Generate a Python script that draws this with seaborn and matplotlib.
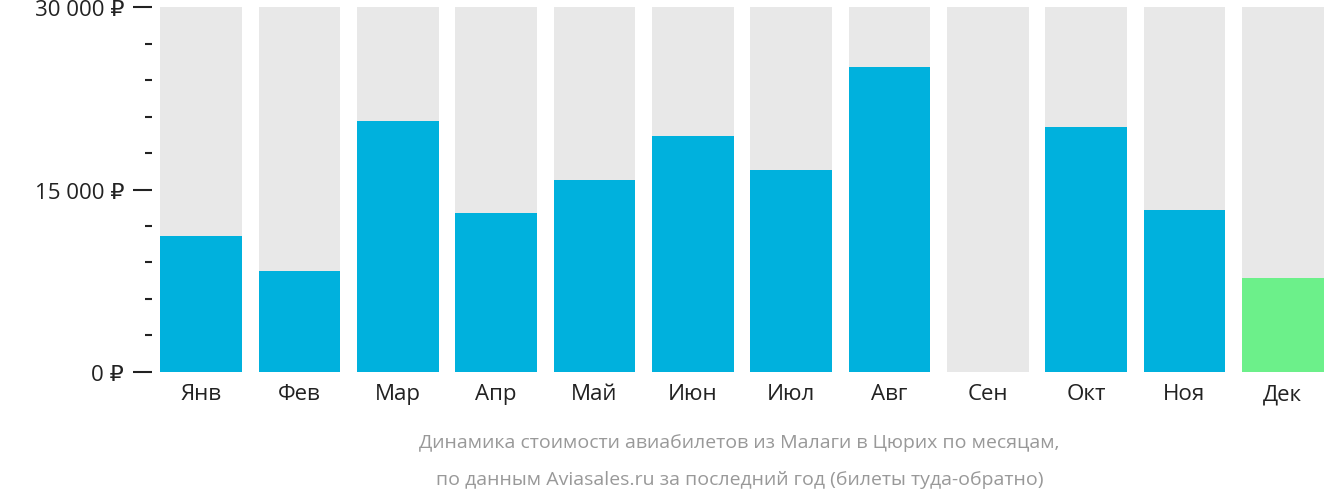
import matplotlib
matplotlib.use('Agg')
import matplotlib.pyplot as plt
from matplotlib.ticker import MultipleLocator
import seaborn as sns
import pandas as pd

months = ['Янв', 'Фев', 'Мар', 'Апр', 'Май', 'Июн', 'Июл', 'Авг', 'Сен', 'Окт', 'Ноя', 'Дек']
prices = [11200, 8300, 20600, 13100, 15800, 19400, 16600, 25100, 0, 20100, 13300, 7700]
colors = ['#00b1dd'] * 11 + ['#6cf08a']
y_max = 30000

plt.rcParams['font.family'] = ['Open Sans', 'DejaVu Sans']
df = pd.DataFrame({'month': months, 'price': prices, 'bg': [y_max] * len(months)})

fig = plt.figure(figsize=(13.32, 5.02), dpi=100)
ax = fig.add_axes([0.114, 0.257, 0.886, 0.727])

sns.barplot(data=df, x='month', y='bg', color='#e8e8e8', width=0.83, ax=ax, saturation=1)
sns.barplot(data=df, x='month', y='price', hue='month', palette=colors, legend=False,
            width=0.83, ax=ax, saturation=1)

ax.set_ylim(0, y_max)
ax.set_xlim(-0.5, 11.5)
ax.set_yticks([0, 15000, 30000])
ax.set_yticklabels(['0 ₽', '15 000 ₽', '30 000 ₽'])
ax.yaxis.set_minor_locator(MultipleLocator(3000))
ax.tick_params(axis='y', which='major', length=14, width=1.5, pad=6, labelsize=16, colors='#222222')
ax.tick_params(axis='y', which='minor', length=5, width=1.5, color='#222222')
ax.tick_params(axis='x', length=0, labelsize=16, pad=8, colors='#222222')
ax.set_xlabel('')
ax.set_ylabel('')
for s in ax.spines.values():
    s.set_visible(False)

fig.text(0.555, 0.117, 'Динамика стоимости авиабилетов из Малаги в Цюрих по месяцам,',
         ha='center', va='center', fontsize=14, color='#999999')
fig.text(0.555, 0.043, 'по данным Aviasales.ru за последний год (билеты туда-обратно)',
         ha='center', va='center', fontsize=14, color='#999999')

fig.savefig('out.png', dpi=100)
